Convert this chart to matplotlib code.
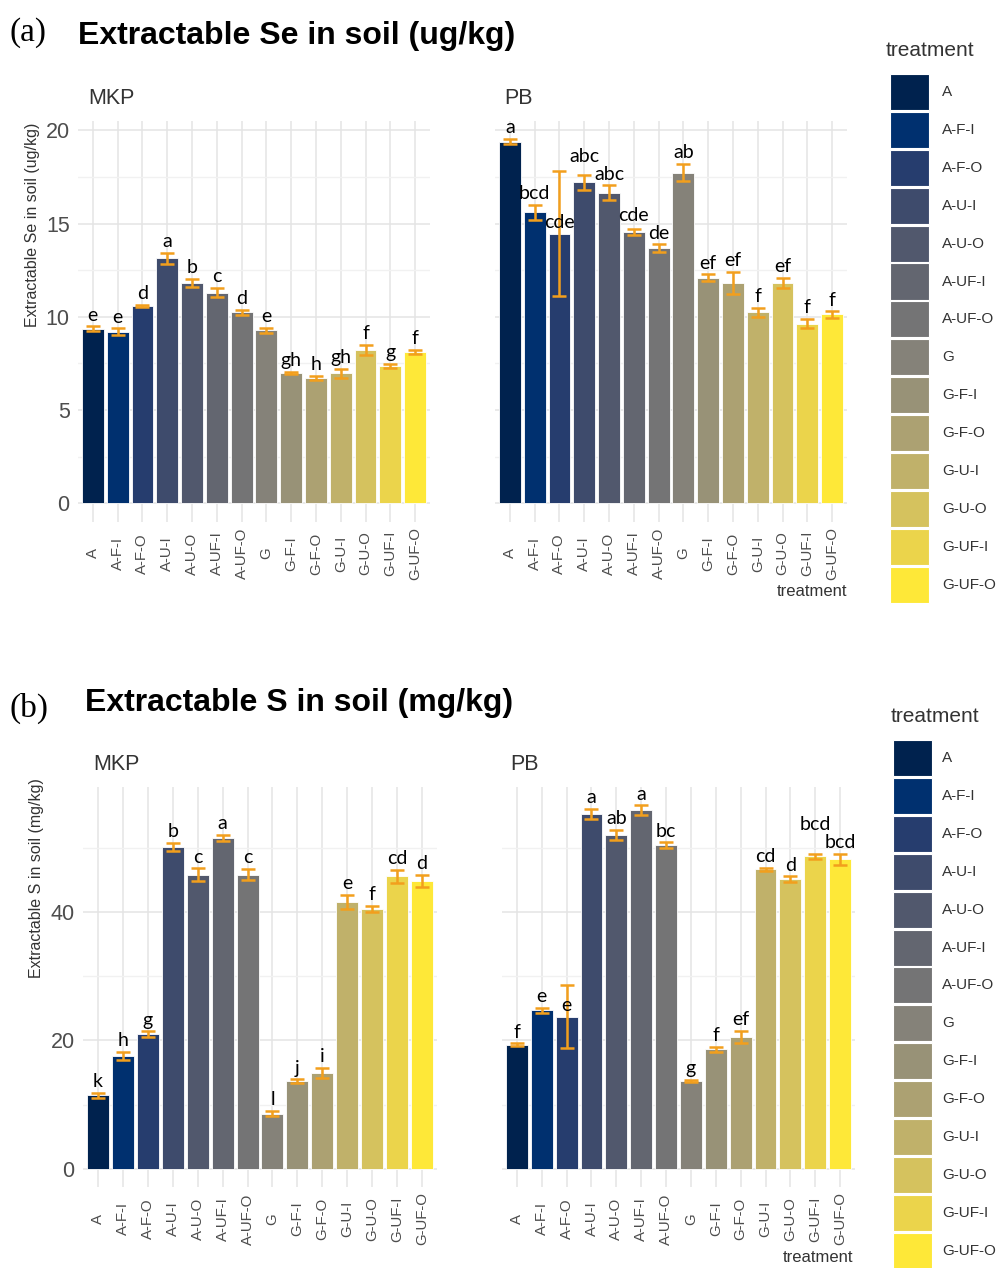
import matplotlib.pyplot as plt
import numpy as np
from matplotlib.patches import Rectangle

treatments = ['A', 'A-F-I', 'A-F-O', 'A-U-I', 'A-U-O', 'A-UF-I', 'A-UF-O',
              'G', 'G-F-I', 'G-F-O', 'G-U-I', 'G-U-O', 'G-UF-I', 'G-UF-O']

# extractable Se (ug/kg), mean / error / letter group
se_mkp = [9.36, 9.20, 10.59, 13.14, 11.82, 11.30, 10.23, 9.27, 6.98, 6.73, 6.96, 8.21, 7.36, 8.11]
se_mkp_err = [0.13, 0.19, 0.05, 0.30, 0.22, 0.24, 0.14, 0.14, 0.07, 0.12, 0.25, 0.28, 0.12, 0.13]
se_mkp_grp = ['e', 'e', 'd', 'a', 'b', 'c', 'd', 'e', 'gh', 'h', 'gh', 'f', 'g', 'f']

se_pb = [19.39, 15.60, 14.46, 17.20, 16.66, 14.55, 13.68, 17.73, 12.09, 11.82, 10.23, 11.82, 9.63, 10.13]
se_pb_err = [0.15, 0.41, 3.35, 0.39, 0.38, 0.16, 0.20, 0.47, 0.19, 0.60, 0.25, 0.28, 0.25, 0.17]
se_pb_grp = ['a', 'bcd', 'cde', 'abc', 'abc', 'cde', 'de', 'ab', 'ef', 'ef', 'f', 'ef', 'f', 'f']

# extractable S (mg/kg)
s_mkp = [11.43, 17.54, 21.0, 50.14, 45.8, 51.47, 45.8, 8.6, 13.68, 14.95, 41.55, 40.5, 45.53, 44.84]
s_mkp_err = [0.4, 0.66, 0.43, 0.63, 0.98, 0.52, 0.92, 0.43, 0.26, 0.78, 1.07, 0.46, 1.0, 0.95]
s_mkp_grp = ['k', 'h', 'g', 'b', 'c', 'a', 'c', 'l', 'j', 'i', 'e', 'f', 'cd', 'd']

s_pb = [19.32, 24.7, 23.66, 55.3, 52.0, 55.82, 50.39, 13.68, 18.59, 20.57, 46.63, 45.12, 48.62, 48.15]
s_pb_err = [0.23, 0.39, 4.9, 0.78, 0.78, 0.78, 0.42, 0.18, 0.44, 0.91, 0.2, 0.42, 0.42, 0.89]
s_pb_grp = ['f', 'e', 'e', 'a', 'ab', 'a', 'bc', 'g', 'f', 'ef', 'cd', 'd', 'bcd', 'bcd']

plt.rcParams['font.family'] = ['Liberation Sans', 'DejaVu Sans']

W, H = 997, 1268
fig = plt.figure(figsize=(W / 100, H / 100), dpi=100)
colors = plt.cm.cividis(np.linspace(0, 1, len(treatments)))
err_color = '#F29F1D'
grey_txt = '#4D4D4D'
dark_txt = '#333333'


def px_axes(left, top, right, bottom):
    return fig.add_axes([left / W, 1 - bottom / H, (right - left) / W, (bottom - top) / H])


def ftext(x, y, s, **kw):
    return fig.text(x / W, 1 - y / H, s, **kw)


def draw_panel(ax, values, errs, groups, ylim, major, minor, show_y):
    x = np.arange(1, len(treatments) + 1)
    ax.set_axisbelow(True)
    ax.bar(x, values, width=0.88, color=colors, edgecolor='white', linewidth=0.6)
    ax.errorbar(x, values, yerr=errs, fmt='none', ecolor=err_color,
                elinewidth=1.8, capsize=4.8, capthick=1.8)
    notes = []
    for xi, v, e, g in zip(x, values, errs, groups):
        # a wide error bar would push the letter far up, so sit it on the bar
        top = v + e if e < 0.15 * v else v
        notes.append(ax.annotate(g, (xi, top), xytext=(0, 4), textcoords='offset points',
                                 ha='center', va='baseline', fontsize=14, family='Lato'))
    ax.set_xlim(0.4, len(treatments) + 0.6)
    ax.set_ylim(ylim)
    ax.set_xticks(x)
    ax.set_xticklabels(treatments, rotation=90, va='center', ha='center')
    ax.set_yticks(major)
    ax.set_yticks(minor, minor=True)
    ax.grid(which='major', color='#E4E4E4', linewidth=1.1)
    ax.grid(which='minor', axis='y', color='#F1F1F1', linewidth=1.0)
    for sp in ax.spines.values():
        sp.set_visible(False)
    ax.tick_params(axis='x', length=0, pad=23, labelsize=10.8, labelcolor=grey_txt)
    ax.tick_params(axis='y', which='both', length=0, pad=6, labelsize=15.5,
                   labelcolor=grey_txt, labelleft=show_y)
    return notes


def lift_overlaps(notes):
    # nudge a letter up when it collides with the one to its right
    renderer = fig.canvas.get_renderer()
    for i in range(len(notes) - 2, -1, -1):
        bb = notes[i].get_window_extent(renderer)
        nxt = notes[i + 1].get_window_extent(renderer)
        if bb.overlaps(nxt):
            dy = (nxt.y1 - bb.y0 + 1) * 72 / fig.dpi
            ox, oy = notes[i].xyann
            notes[i].xyann = (ox, oy + dy)


def expand(vals, errs):
    top = max(v + e for v, e in zip(vals, errs))
    return (-0.05 * top, 1.05 * top)


# (a) selenium
ylim_se = expand(se_pb + se_mkp, se_pb_err + se_mkp_err)
ax1 = px_axes(78, 120.6, 430, 521.5)
n1 = draw_panel(ax1, se_mkp, se_mkp_err, se_mkp_grp, ylim_se,
                [0, 5, 10, 15, 20], [2.5, 7.5, 12.5, 17.5], True)
ax2 = px_axes(495, 120.6, 847, 521.5)
n2 = draw_panel(ax2, se_pb, se_pb_err, se_pb_grp, ylim_se,
                [0, 5, 10, 15, 20], [2.5, 7.5, 12.5, 17.5], False)

# (b) sulphur
ylim_s = expand(s_pb + s_mkp, s_pb_err + s_mkp_err)
ax3 = px_axes(83, 787, 437, 1187)
n3 = draw_panel(ax3, s_mkp, s_mkp_err, s_mkp_grp, ylim_s, [0, 20, 40], [10, 30, 50], True)
ax4 = px_axes(502, 787, 855, 1187)
n4 = draw_panel(ax4, s_pb, s_pb_err, s_pb_grp, ylim_s, [0, 20, 40], [10, 30, 50], False)

fig.canvas.draw()
for notes in (n1, n2, n3, n4):
    lift_overlaps(notes)

# headings
ftext(9, 33, '(a)', fontsize=24, family='Liberation Serif', va='center')
ftext(78, 36, 'Extractable Se in soil (ug/kg)', fontsize=23, weight='bold', va='center')
ftext(9, 708, '(b)', fontsize=24, family='Liberation Serif', va='center')
ftext(85, 703, 'Extractable S in soil (mg/kg)', fontsize=23, weight='bold', va='center')

for x, y, s in [(88, 99, 'MKP'), (504, 99, 'PB'), (93, 765, 'MKP'), (510, 765, 'PB')]:
    ftext(x, y, s, fontsize=15.5, color=dark_txt, va='center')

ftext(32, 225, 'Extractable Se in soil (ug/kg)', fontsize=11.5, color=dark_txt,
      rotation=90, ha='center', va='center')
ftext(37, 878, 'Extractable S in soil (mg/kg)', fontsize=11.5, color=dark_txt,
      rotation=90, ha='center', va='center')
ftext(847, 592, 'treatment', fontsize=12, color=dark_txt, ha='right', va='center')
ftext(853, 1257, 'treatment', fontsize=12, color=dark_txt, ha='right', va='center')


# legends: one key per treatment
def draw_legend(key_left, title_x, title_y, first_y, label_x):
    ftext(title_x, title_y, 'treatment', fontsize=15, color=dark_txt, va='center')
    step = 37.9
    for i, (name, c) in enumerate(zip(treatments, colors)):
        cy = first_y + i * step
        fig.patches.append(Rectangle((key_left / W, 1 - (cy + 18) / H), 39 / W, 36 / H,
                                     transform=fig.transFigure, facecolor=c,
                                     edgecolor='white', linewidth=0.8))
        ftext(label_x, cy, name, fontsize=11, color=dark_txt, va='center')


draw_legend(890, 886, 51, 92, 942)
draw_legend(893, 891, 717, 758, 942)

fig.savefig('out.png', dpi=100)
